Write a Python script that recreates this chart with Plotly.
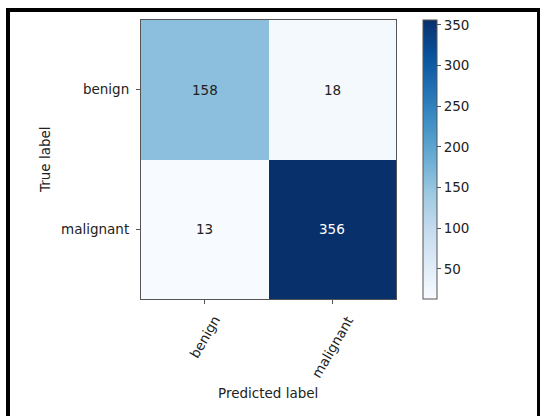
import plotly.graph_objects as go
import plotly.colors as pc

# Confusion matrix data
classes = ["benign", "malignant"]
true_labels = classes
pred_labels = classes
counts = [[158, 18],
          [13, 356]]
cbar_ticks = [50, 100, 150, 200, 250, 300, 350]

# Figure geometry (pixels)
W, H = 542, 416
L, R, T, B = 141, 146, 20, 117
PW = W - L - R
PH = H - T - B


def px_x(px):
    return (px - L) / PW


def px_y(py):
    return (H - B - py) / PH


FONT = "DejaVu Sans"
FS = 13.5
TEXT_COLOR = "#222222"
SPINE = "#555555"

zmin = min(min(r) for r in counts)
zmax = max(max(r) for r in counts)
thresh = zmax / 2

fig = go.Figure(
    go.Heatmap(
        z=counts,
        x=pred_labels,
        y=true_labels,
        colorscale=pc.sequential.Blues,
        zmin=zmin,
        zmax=zmax,
        hoverongaps=False,
        colorbar=dict(
            x=px_x(423),
            xanchor="left",
            xpad=0,
            y=0.5,
            yanchor="middle",
            ypad=0,
            len=1,
            lenmode="fraction",
            thickness=14,
            thicknessmode="pixels",
            outlinewidth=1,
            outlinecolor=SPINE,
            ticks="outside",
            ticklen=4,
            tickwidth=1,
            tickcolor=SPINE,
            tickvals=cbar_ticks,
            tickfont=dict(family=FONT, size=FS, color=TEXT_COLOR),
        ),
    )
)

# Cell value labels
annotations = []
for i, row in enumerate(counts):
    for j, v in enumerate(row):
        annotations.append(dict(
            x=pred_labels[j], y=true_labels[i], xref="x", yref="y",
            text=str(v), showarrow=False,
            font=dict(family=FONT, size=FS,
                      color="white" if v > thresh else TEXT_COLOR),
        ))

# Rotated x tick labels, centred under each tick
for lab in pred_labels:
    annotations.append(dict(
        x=lab, y=px_y(312), xref="x", yref="paper",
        text=lab, textangle=-60, showarrow=False,
        xanchor="center", yanchor="top", borderpad=0,
        font=dict(family=FONT, size=FS, color=TEXT_COLOR),
    ))

# Axis titles
annotations.append(dict(
    x=px_x(45), y=px_y(160), xref="paper", yref="paper",
    text="True label", textangle=-90, showarrow=False,
    xanchor="center", yanchor="middle",
    font=dict(family=FONT, size=FS, color=TEXT_COLOR),
))
annotations.append(dict(
    x=px_x(268), y=px_y(393), xref="paper", yref="paper",
    text="Predicted label", showarrow=False,
    xanchor="center", yanchor="middle",
    font=dict(family=FONT, size=FS, color=TEXT_COLOR),
))

# Black frame around the figure
frame = [
    (6, 8, 10, 420),
    (6, 8, 540, 12),
    (537, 8, 540, 420),
]
shapes = [
    dict(type="rect", xref="paper", yref="paper",
         x0=px_x(x0), x1=px_x(x1), y0=px_y(y0), y1=px_y(y1),
         fillcolor="black", line=dict(width=0), layer="above")
    for x0, y0, x1, y1 in frame
]

axis_common = dict(
    showline=True, mirror=True, linecolor=SPINE, linewidth=1.2,
    ticks="outside", ticklen=4, tickwidth=1, tickcolor=SPINE,
    showgrid=False, zeroline=False,
    tickfont=dict(family=FONT, size=FS, color=TEXT_COLOR),
)

fig.update_layout(
    width=W, height=H,
    margin=dict(l=L, r=R, t=T, b=B, autoexpand=False),
    paper_bgcolor="white",
    plot_bgcolor="white",
    xaxis=dict(**axis_common, showticklabels=False, categoryorder="array",
               categoryarray=pred_labels, automargin=False),
    yaxis=dict(**axis_common, autorange="reversed", categoryorder="array",
               categoryarray=true_labels, automargin=False,
               ticklabelstandoff=4),
    annotations=annotations,
    shapes=shapes,
)

fig.write_html("out.html")
